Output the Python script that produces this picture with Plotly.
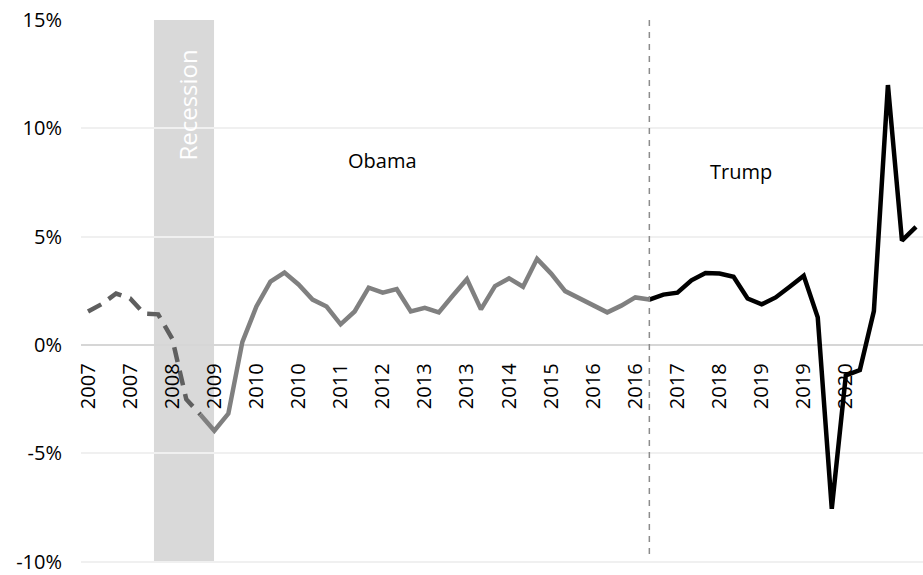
import plotly.graph_objects as go

# Real GDP, year-over-year growth (%), quarterly 2007Q1 - 2021Q4
quarters = [f"{y}Q{q}" for y in range(2007, 2022) for q in range(1, 5)]
gdp_growth = [
    1.55, 1.90, 2.38, 2.15,    # 2007
    1.45, 1.42, 0.30, -2.50,   # 2008
    -3.20, -3.95, -3.16, 0.15, # 2009
    1.78, 2.93, 3.35, 2.80,    # 2010
    2.10, 1.78, 0.96, 1.55,    # 2011
    2.65, 2.42, 2.58, 1.55,    # 2012
    1.72, 1.51, 2.29, 3.04,    # 2013
    1.65, 2.72, 3.08, 2.69,    # 2014
    3.98, 3.30, 2.49, 2.15,    # 2015
    1.85, 1.51, 1.82, 2.20,    # 2016
    2.10, 2.33, 2.42, 2.99,    # 2017
    3.33, 3.30, 3.15, 2.15,    # 2018
    1.88, 2.20, 2.69, 3.20,    # 2019
    1.28, -7.55, -1.40, -1.15, # 2020
    1.57, 12.00, 4.82, 5.45,   # 2021
]

# Administration boundaries (quarter index where each term begins)
obama_start = quarters.index("2009Q1")
trump_start = quarters.index("2017Q1")

# Recession band (quarter-index positions) and its label
recession_span = (4.70, 8.98)
recession_label = "Recession"

# Category labels: the year, shown every third quarter
tick_every = 3
tick_idx = list(range(0, len(quarters), tick_every))[:19]
tick_text = [quarters[i][:4] for i in tick_idx]

y_ticks = [-10, -5, 0, 5, 10, 15]
y_tick_text = ["-10%", "-5%", "0%", "5%", "10%", "15%"]

x = list(range(len(quarters)))
FONT = "Open Sans"

fig = go.Figure()

# Pre-Obama (Bush) segment, dashed
fig.add_trace(go.Scatter(
    x=x[:obama_start + 1], y=gdp_growth[:obama_start + 1],
    mode="lines", line=dict(color="#5f5f5f", width=4.5, dash="15px,9px"),
    hoverinfo="skip", showlegend=False,
))
# Obama segment
fig.add_trace(go.Scatter(
    x=x[obama_start:trump_start + 1], y=gdp_growth[obama_start:trump_start + 1],
    mode="lines", line=dict(color="#808080", width=4.5),
    hoverinfo="skip", showlegend=False,
))
# Trump segment
fig.add_trace(go.Scatter(
    x=x[trump_start:], y=gdp_growth[trump_start:],
    mode="lines", line=dict(color="#000000", width=4.5),
    hoverinfo="skip", showlegend=False,
))

# Recession shading
fig.add_shape(
    type="rect", xref="x", yref="y",
    x0=recession_span[0], x1=recession_span[1], y0=-10, y1=15,
    fillcolor="#d9d9d9", line=dict(width=0), layer="below",
)
# Start of Trump term
fig.add_shape(
    type="line", xref="x", yref="y",
    x0=trump_start, x1=trump_start, y0=15, y1=-9.65,
    line=dict(color="#8c8c8c", width=1.5, dash="6px,6px"), layer="above",
)

fig.add_annotation(
    x=sum(recession_span) / 2, y=11.05, text=recession_label, textangle=-90,
    showarrow=False, xshift=4,
    font=dict(family=FONT, size=24, color="#ffffff"),
)
fig.add_annotation(
    x=21.0, y=8.5, text="Obama", showarrow=False,
    font=dict(family=FONT, size=20, color="#000000"),
)
fig.add_annotation(
    x=46.5, y=8.0, text="Trump", showarrow=False,
    font=dict(family=FONT, size=20, color="#000000"),
)

fig.update_layout(
    width=923, height=575,
    margin=dict(l=81, r=0, t=20, b=7),
    paper_bgcolor="#ffffff", plot_bgcolor="#ffffff",
    font=dict(family=FONT, size=20, color="#000000"),
    xaxis=dict(
        range=[-0.5, len(quarters) - 0.5],
        tickmode="array", tickvals=tick_idx, ticktext=tick_text,
        tickangle=-90, showgrid=False, zeroline=False, showline=False,
        anchor="free", position=0.4, ticks="", ticklabelstandoff=12,
        tickfont=dict(family=FONT, size=20, color="#000000"),
    ),
    yaxis=dict(
        range=[-10.1, 15.0], tickmode="array", tickvals=y_ticks,
        ticktext=y_tick_text, showgrid=True, gridcolor="#f0f0f0", gridwidth=2,
        zeroline=True, zerolinecolor="#d6d6d6", zerolinewidth=2,
        showline=False, ticks="", ticklabelstandoff=18,
        ticklabeloverflow="allow",
        tickfont=dict(family=FONT, size=20, color="#000000"),
    ),
)

fig.write_html("out.html")
